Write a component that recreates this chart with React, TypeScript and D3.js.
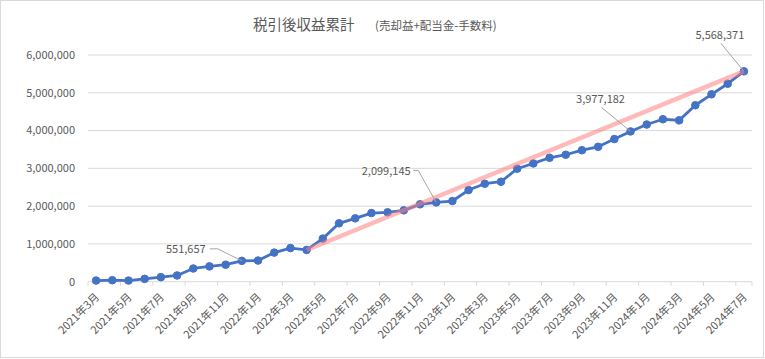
import React from "react";
import * as d3 from "d3";

const months: string[] = [
  "2021年3月","2021年4月","2021年5月","2021年6月","2021年7月","2021年8月","2021年9月","2021年10月","2021年11月","2021年12月",
  "2022年1月","2022年2月","2022年3月","2022年4月","2022年5月","2022年6月","2022年7月","2022年8月","2022年9月","2022年10月","2022年11月","2022年12月",
  "2023年1月","2023年2月","2023年3月","2023年4月","2023年5月","2023年6月","2023年7月","2023年8月","2023年9月","2023年10月","2023年11月","2023年12月",
  "2024年1月","2024年2月","2024年3月","2024年4月","2024年5月","2024年6月","2024年7月",
];
const values: number[] = [
  30000, 40000, 30000, 75000, 120000, 165000, 350000, 405000, 450000, 551657,
  560000, 770000, 890000, 840000, 1140000, 1545000, 1677000, 1817000, 1836000, 1889000, 2048000, 2099145,
  2135000, 2426000, 2593000, 2646000, 2990000, 3130000, 3280000, 3360000, 3480000, 3570000, 3775000, 3977182,
  4160000, 4300000, 4270000, 4670000, 4960000, 5240000, 5568371,
];
const yTicks: number[] = [0, 1000000, 2000000, 3000000, 4000000, 5000000, 6000000];
const trendFrom = "2022年4月";
const trendTo = "2024年7月";
// label offsets relative to point, and where the leader starts relative to the label centre
const labeled: { month: string; dx: number; dy: number; lx: number; ly: number; hx: number }[] = [
  { month: "2021年12月", dx: -56, dy: -12, lx: 24, ly: 0, hx: 8 },
  { month: "2022年12月", dx: -50, dy: -31, lx: 27, ly: -1, hx: 5 },
  { month: "2023年12月", dx: -30, dy: -32, lx: 1, ly: 8, hx: 0 },
  { month: "2024年7月", dx: -24, dy: -36, lx: 1, ly: 8, hx: 0 },
];

const W = 765, H = 359;
const left = 88, right = 752, top = 55, bottom = 281.7;
const font = "'Noto Sans CJK JP', 'Noto Sans', sans-serif";
const grey = "#595959";

export default function App() {
  const x = d3.scaleBand<string>().domain(months).range([left, right]);
  const y = d3.scaleLinear().domain([0, 6000000]).range([bottom, top]);
  const cx = (m: string) => (x(m) as number) + x.bandwidth() / 2;
  const fmt = d3.format(",");
  const line = d3.line<number>().x((_, i) => cx(months[i])).y((d) => y(d));
  const iA = months.indexOf(trendFrom), iB = months.indexOf(trendTo);

  return (
    <svg width={W} height={H} style={{ position: "absolute", left: 0, top: 0, background: "#fff" }} fontFamily={font}>
      <rect x={0.5} y={0.5} width={763} height={357} fill="#fff" stroke="#d9d9d9" />
      <text x={253} y={30} fontSize={14.5} fill={grey}>税引後収益累計</text>
      <text x={375} y={30} fontSize={11.5} fill={grey}>(売却益+配当金-手数料)</text>
      {yTicks.map((t) => (
        <g key={t}>
          <line x1={left} x2={right} y1={y(t)} y2={y(t)} stroke="#d9d9d9" strokeWidth={1} />
          <text x={75} y={y(t)} dy="0.35em" textAnchor="end" fontSize={11} fill={grey}>{fmt(t)}</text>
        </g>
      ))}
      {months.map((m, i) =>
        i % 2 === 0 ? (
          <g key={m}>
            <line x1={x(m) as number} x2={x(m) as number} y1={bottom} y2={bottom + 4} stroke="#d9d9d9" />
            <text
              transform={`translate(${cx(m) + 4},${bottom + 16}) rotate(-45)`}
              textAnchor="end"
              fontSize={11}
              fill={grey}
            >{m}</text>
          </g>
        ) : null
      )}
      <line x1={right} x2={right} y1={bottom} y2={bottom + 4} stroke="#d9d9d9" />
      <path d={line(values) as string} fill="none" stroke="#4472C4" strokeWidth={2.8} strokeLinejoin="round" />
      {values.map((v, i) => (
        <circle key={i} cx={cx(months[i])} cy={y(v)} r={3.8} fill="#4472C4" stroke="#4472C4" strokeWidth={1} />
      ))}
      <line
        x1={cx(months[iA])} y1={y(values[iA])} x2={cx(months[iB])} y2={y(values[iB])}
        stroke="#ff7f7f" strokeOpacity={0.55} strokeWidth={4.5} strokeLinecap="butt"
      />
      {labeled.map((l) => {
        const i = months.indexOf(l.month);
        const px = cx(l.month), py = y(values[i]);
        const tx = px + l.dx, ty = py + l.dy;
        const sx = tx + l.lx, sy = ty + l.ly;
        return (
          <g key={l.month}>
            <polyline
              points={`${sx},${sy} ${sx + l.hx},${sy} ${px},${py}`}
              fill="none" stroke="#a6a6a6" strokeWidth={1}
            />
            <text x={tx} y={ty} dy="0.35em" textAnchor="middle" fontSize={11} fill={grey}>
              {fmt(values[i])}
            </text>
          </g>
        );
      })}
    </svg>
  );
}
